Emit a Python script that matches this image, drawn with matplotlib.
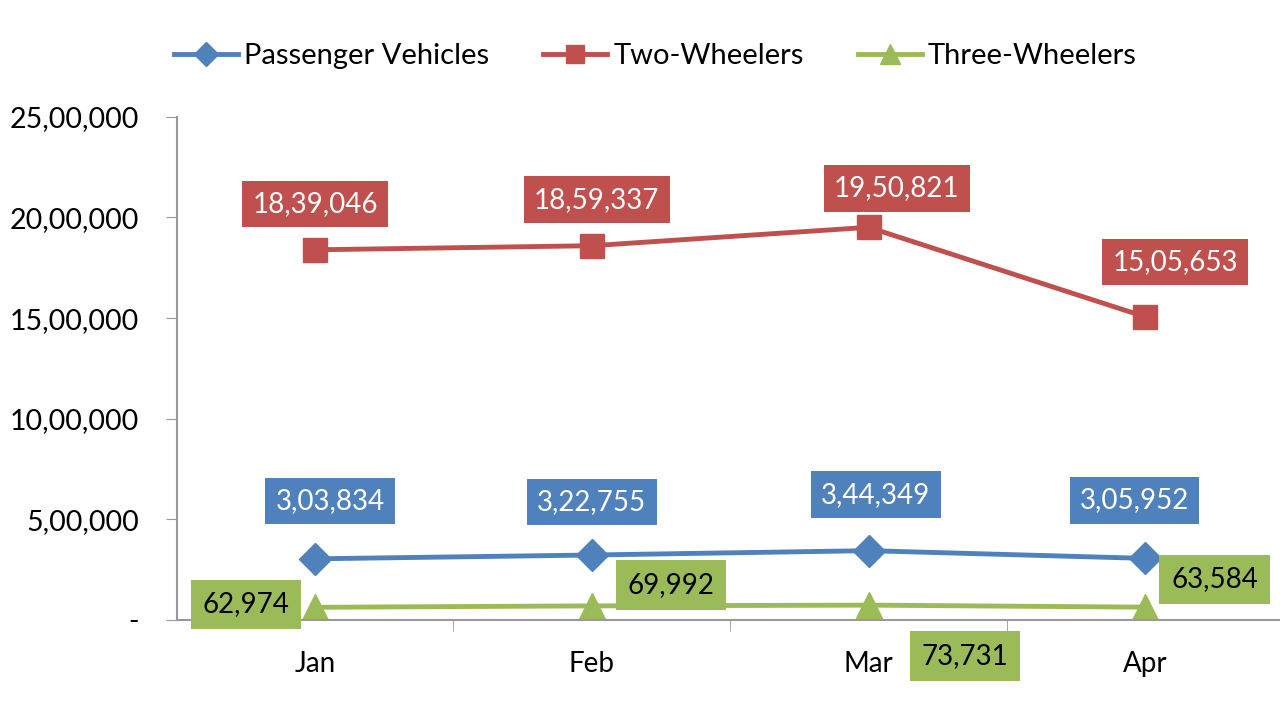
import matplotlib.pyplot as plt
from matplotlib.ticker import FuncFormatter

plt.rcParams['font.family'] = ['Lato', 'DejaVu Sans']

months = ['Jan', 'Feb', 'Mar', 'Apr']
passenger = [303834, 322755, 344349, 305952]
two_wheelers = [1839046, 1859337, 1950821, 1505653]
three_wheelers = [62974, 69992, 73731, 63584]

BLUE = '#4F81BD'
RED = '#C0504D'
GREEN = '#9BBB59'


def indian(n):
    n = int(round(n))
    if n == 0:
        return '-'
    s = str(n)
    if len(s) <= 3:
        return s
    head, tail = s[:-3], s[-3:]
    groups = []
    while len(head) > 2:
        groups.insert(0, head[-2:])
        head = head[:-2]
    if head:
        groups.insert(0, head)
    return ','.join(groups + [tail])


fig = plt.figure(figsize=(12.8, 7.23), dpi=100)
ax = fig.add_axes([0.138, 0.1425, 0.865, 0.696])

x = list(range(len(months)))
ax.plot(x, passenger, color=BLUE, lw=3.5, marker='D', ms=16, label='Passenger Vehicles')
ax.plot(x, two_wheelers, color=RED, lw=3.5, marker='s', ms=17, label='Two-Wheelers')
ax.plot(x, three_wheelers, color=GREEN, lw=3.5, marker='^', ms=19, label='Three-Wheelers')

# label offsets in pixels (box centre relative to the point)
pv_off = [(15, 58), (0, 53), (7, 56), (-11, 58)]
tw_off = [(0, 46), (5, 46), (28, 39), (30, 55)]
tr_off = [(-69, 3), (79, 21), (96, -51), (69, 28)]


def label(vals, offs, fc, tc, pad):
    for i, (v, o) in enumerate(zip(vals, offs)):
        ax.annotate(indian(v), (i, v), xytext=o, textcoords='offset pixels',
                    ha='center', va='center', fontsize=20, color=tc,
                    bbox=dict(boxstyle='square,pad=%s' % pad, fc=fc, ec='none'),
                    annotation_clip=False, zorder=5)


label(passenger, pv_off, BLUE, 'white', 0.37)
label(two_wheelers, tw_off, RED, 'white', 0.37)
label(three_wheelers, tr_off, GREEN, 'black', 0.42)

ax.set_xlim(-0.5, 3.5)
ax.set_ylim(0, 2500000)
ax.set_yticks([0, 500000, 1000000, 1500000, 2000000, 2500000])
ax.yaxis.set_major_formatter(FuncFormatter(lambda v, p: indian(v)))
ax.set_xticks(x)
ax.set_xticklabels(months)
ax.set_xticks([0.5, 1.5, 2.5], minor=True)
ax.tick_params(axis='x', which='major', length=0, pad=22, labelsize=20)
ax.tick_params(axis='x', which='minor', length=8, color='#999999', direction='out')
ax.tick_params(axis='y', length=8, color='#999999', labelsize=20.5, pad=19)

for s in ['top', 'right']:
    ax.spines[s].set_visible(False)
for s in ['left', 'bottom']:
    ax.spines[s].set_color('#999999')
    ax.spines[s].set_linewidth(1.5)

fig.legend(loc='center', bbox_to_anchor=(0.512, 0.922), ncol=3, frameon=False,
           fontsize=21, handlelength=2.2, handletextpad=0.2, columnspacing=1.85,
           markerscale=0.75)

fig.savefig('out.png', dpi=100)
